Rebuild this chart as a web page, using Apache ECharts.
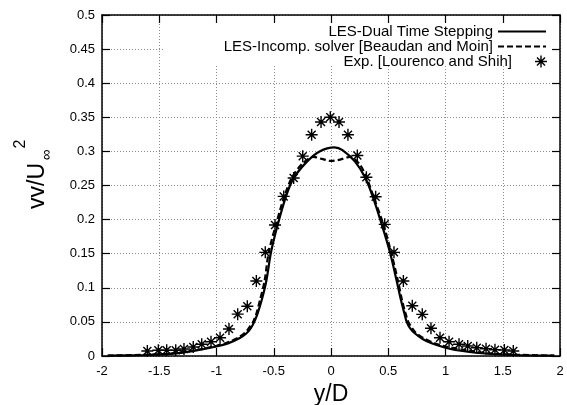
<!DOCTYPE html>
<html>
<head>
<meta charset="utf-8">
<script src="https://cdn.jsdelivr.net/npm/echarts@6/dist/echarts.min.js"></script>
<style>html,body{margin:0;padding:0;background:#fff}#c{width:567px;height:405px}</style>
</head>
<body>
<div id="c"></div>
<script>
// Experimental data (Lourenco and Shih)
const expX = [-1.604,-1.508,-1.435,-1.356,-1.284,-1.203,-1.129,-1.048,-0.969,-0.891,-0.815,-0.731,-0.652,-0.574,-0.489,-0.413,-0.326,-0.247,-0.169,-0.087,-0.006,0.070,0.148,0.230,0.309,0.390,0.469,0.550,0.632,0.710,0.797,0.873,0.952,1.031,1.118,1.194,1.273,1.354,1.432,1.514,1.592];
const expY = [0.0073,0.0084,0.0084,0.0084,0.0103,0.0132,0.0172,0.021,0.0268,0.0396,0.0614,0.073,0.110,0.152,0.192,0.234,0.261,0.293,0.3245,0.343,0.350,0.343,0.3245,0.294,0.262,0.2336,0.193,0.152,0.110,0.0737,0.0611,0.0406,0.0268,0.021,0.0172,0.0147,0.0122,0.0107,0.0092,0.0088,0.0073];
// LES-Dual Time Stepping
const dualX = [-1.95,-1.6,-1.4,-1.2,-1.0,-0.9,-0.8,-0.74,-0.7,-0.67,-0.64,-0.605,-0.565,-0.524,-0.466,-0.393,-0.329,-0.21,-0.1,0.03,0.1,0.21,0.297,0.364,0.443,0.515,0.574,0.611,0.64,0.661,0.69,0.734,0.8,0.879,1.0,1.083,1.316,1.6,1.95];
const dualY = [0.0005,0.0015,0.003,0.0075,0.014,0.0185,0.026,0.033,0.041,0.05,0.063,0.082,0.110,0.152,0.192,0.234,0.260,0.285,0.300,0.306,0.302,0.285,0.262,0.234,0.193,0.152,0.110,0.082,0.063,0.050,0.041,0.033,0.025,0.0186,0.012,0.0088,0.004,0.0015,0.0005];
// LES-Incomp. solver (Beaudan and Moin)
const incX = [-1.95,-1.6,-1.4,-1.2,-1.0,-0.9,-0.8,-0.74,-0.7,-0.68,-0.65,-0.62,-0.58,-0.544,-0.48,-0.408,-0.34,-0.25,-0.155,-0.08,0.0,0.08,0.166,0.25,0.31,0.37,0.457,0.525,0.585,0.62,0.65,0.675,0.70,0.74,0.8,0.9,1.0,1.2,1.4,1.6,1.95];
const incY = [0.0005,0.002,0.0035,0.008,0.015,0.020,0.028,0.036,0.045,0.05,0.063,0.082,0.110,0.152,0.193,0.234,0.262,0.282,0.292,0.289,0.286,0.288,0.292,0.281,0.262,0.234,0.193,0.152,0.110,0.082,0.063,0.05,0.043,0.034,0.027,0.019,0.014,0.008,0.0035,0.002,0.0005];

const names = ['LES-Dual Time Stepping','LES-Incomp. solver [Beaudan and Moin]','Exp. [Lourenco and Shih]'];
const FONT = 'Liberation Sans, Arial, Helvetica, sans-serif';
const pair = (xs, ys) => xs.map((x, i) => [x, ys[i]]);
const star = 'path://M0,5.3L12,5.3L12,6.7L0,6.7Z M5.3,0L6.7,0L6.7,12L5.3,12Z M1.5,2.5L2.5,1.5L10.5,9.5L9.5,10.5Z M9.5,1.5L10.5,2.5L2.5,10.5L1.5,9.5Z';

const chart = echarts.init(document.getElementById('c'), null, {renderer: 'canvas'});
const axisCommonX = {type: 'value', min: -2, max: 2, interval: 0.5};
const axisCommonY = {type: 'value', min: 0, max: 0.5, interval: 0.05};
const lineSt = {color: '#000', width: 1.5};
const legendBase = {orient: 'horizontal', align: 'right', right: 20, padding: 0, itemWidth: 48, itemHeight: 14, itemGap: 0,
  textStyle: {fontFamily: FONT, fontSize: 15, color: '#000', lineHeight: 14}, selectedMode: false, symbolKeepAspect: true};

chart.setOption({
  animation: false,
  backgroundColor: '#fff',
  grid: {left: 102, right: 7, top: 15, bottom: 49, containLabel: false, outerBoundsMode: 'none'},
  xAxis: [
    Object.assign({}, axisCommonX, {position: 'bottom', z: 0,
      axisLine: {show: true, lineStyle: lineSt, onZero: false},
      axisTick: {show: true, inside: true, length: 8, lineStyle: {color: '#000', width: 1.2}},
      axisLabel: {color: '#000', fontFamily: FONT, fontSize: 13, margin: 9,
        formatter: v => String(+v.toFixed(2))},
      splitLine: {show: true, lineStyle: {color: '#8c8c8c', width: 1, type: [1, 2]}},
      name: 'y/D', nameLocation: 'middle', nameGap: 18,
      nameTextStyle: {fontFamily: FONT, fontSize: 23, color: '#000', verticalAlign: 'top'}}),
    Object.assign({}, axisCommonX, {position: 'top', z: 3,
      axisLine: {show: true, lineStyle: lineSt, onZero: false},
      axisTick: {show: true, inside: true, length: 8, lineStyle: {color: '#000', width: 1.2}},
      axisLabel: {show: false}, splitLine: {show: false}})
  ],
  yAxis: [
    Object.assign({}, axisCommonY, {position: 'left', z: 0,
      axisLine: {show: true, lineStyle: lineSt, onZero: false},
      axisTick: {show: true, inside: true, length: 8, lineStyle: {color: '#000', width: 1.2}},
      axisLabel: {color: '#000', fontFamily: FONT, fontSize: 13, margin: 7,
        formatter: v => String(+v.toFixed(2))},
      splitLine: {show: true, lineStyle: {color: '#8c8c8c', width: 1, type: [1, 2]}}}),
    Object.assign({}, axisCommonY, {position: 'right', z: 3,
      axisLine: {show: true, lineStyle: lineSt, onZero: false},
      axisTick: {show: true, inside: true, length: 8, lineStyle: {color: '#000', width: 1.2}},
      axisLabel: {show: false}, splitLine: {show: false}})
  ],
  legend: [
    Object.assign({}, legendBase, {data: [names[0]], top: 24, itemStyle: {opacity: 0, borderWidth: 0}}),
    Object.assign({}, legendBase, {data: [names[1]], top: 39, itemStyle: {opacity: 0, borderWidth: 0}}),
    Object.assign({}, legendBase, {data: [names[2]], top: 54, itemHeight: 12, itemStyle: {opacity: 1}})
  ],
  graphic: [
    {type: 'rect', z: 1, shape: {x: 165, y: 16, width: 394, height: 48}, style: {fill: '#fff'}, silent: true},
    {type: 'text', z: 5, x: 38, y: 186, rotation: Math.PI / 2,
      style: {text: 'vv/U', font: '23px ' + FONT, fill: '#000', align: 'center', verticalAlign: 'middle'}},
    {type: 'text', z: 5, x: 47, y: 155, rotation: Math.PI / 2,
      style: {text: '∞', font: '15px ' + FONT, fill: '#000', align: 'center', verticalAlign: 'middle'}},
    {type: 'text', z: 5, x: 21, y: 144, rotation: Math.PI / 2,
      style: {text: '2', font: '16px ' + FONT, fill: '#000', align: 'center', verticalAlign: 'middle'}}
  ],
  series: [
    {name: names[0], type: 'line', data: pair(dualX, dualY), symbol: 'none', showSymbol: false, smooth: 0.3,
      lineStyle: {color: '#000', width: 2.2}, itemStyle: {color: '#000'}, z: 4},
    {name: names[1], type: 'line', data: pair(incX, incY), symbol: 'none', showSymbol: false, smooth: 0.3,
      lineStyle: {color: '#000', width: 2.2, type: [6, 3]}, itemStyle: {color: '#000'}, z: 4},
    {name: names[2], type: 'scatter', data: pair(expX, expY), symbol: star, symbolSize: 12,
      itemStyle: {color: '#000', opacity: 1}, z: 5}
  ]
});
</script>
</body>
</html>
